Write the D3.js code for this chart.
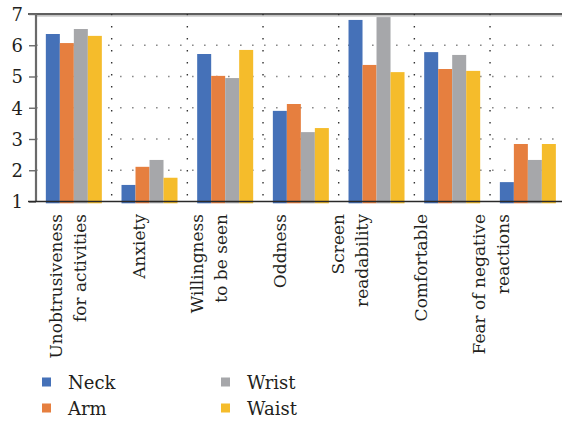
<!DOCTYPE html>
<html><head><meta charset="utf-8">
<script src="https://cdn.jsdelivr.net/npm/d3@7"></script>
<style>
html,body{margin:0;padding:0;background:#fff;}
svg{display:block;}
</style></head>
<body>
<svg id="chart" width="562" height="421"></svg>
<script>
const categories = [
  ["Unobtrusiveness","for activities"],
  ["Anxiety"],
  ["Willingness","to be seen"],
  ["Oddness"],
  ["Screen","readability"],
  ["Comfortable"],
  ["Fear of negative","reactions"]
];
const seriesNames = ["Neck","Arm","Wrist","Waist"];
const neck  = [6.36, 1.53, 5.72, 3.90, 6.81, 5.78, 1.62];
const arm   = [6.07, 2.11, 5.02, 4.12, 5.37, 5.24, 2.84];
const wrist = [6.52, 2.33, 4.95, 3.22, 6.90, 5.69, 2.33];
const waist = [6.30, 1.76, 5.85, 3.35, 5.14, 5.18, 2.84];
const yTicks = [1,2,3,4,5,6,7];
const colors = ["#4571b8","#e67f3f","#a6a7aa","#f5bc2b"];

const FONT = "DejaVu Serif";
const values = [neck, arm, wrist, waist];
const catKeys = categories.map(c => c.join(" "));
const svg = d3.select("#chart").attr("font-family", FONT);

const x = d3.scaleBand().domain(catKeys).range([36, 565.7]).padding(0);
const bw = x.bandwidth();
const x1 = d3.scaleBand().domain(seriesNames).range([(bw-56)/2, (bw+56)/2]).padding(0);
const xLab = d3.scaleBand().domain(catKeys).range([32.75, 526.25]).padding(0);
const y = d3.scaleLinear().domain([1,7]).range([201.5, 14]);

// horizontal dotted gridlines
svg.append("g").selectAll("line").data(yTicks.filter(t => t > 1 && t < 7)).join("line")
  .attr("x1", 36).attr("x2", 562)
  .attr("y1", d => y(d)).attr("y2", d => y(d))
  .attr("stroke", "#8a8a8a").attr("stroke-width", 1.6)
  .attr("stroke-dasharray", "1.6,10.4");

// vertical dotted gridlines at category boundaries
svg.append("g").selectAll("line").data(catKeys.slice(1)).join("line")
  .attr("x1", d => x(d)).attr("x2", d => x(d))
  .attr("y1", y(7)).attr("y2", y(1))
  .attr("stroke", "#333").attr("stroke-width", 1.4)
  .attr("stroke-dasharray", "1.4,10.6");

// top border
svg.append("line").attr("x1", 36).attr("x2", 562).attr("y1", y(7)+1.8).attr("y2", y(7)+1.8)
  .attr("stroke", "#b0b0b0").attr("stroke-width", 1.2);
svg.append("line").attr("x1", 28).attr("x2", 562).attr("y1", y(7)).attr("y2", y(7))
  .attr("stroke", "#2a2a2a").attr("stroke-width", 1.6);

// bars
const groups = svg.append("g").selectAll("g").data(catKeys).join("g")
  .attr("transform", d => `translate(${x(d)},0)`);
groups.selectAll("rect").data((d, i) => seriesNames.map((s, j) => ({s, v: values[j][i], j})))
  .join("rect")
  .attr("x", d => x1(d.s))
  .attr("width", x1.bandwidth())
  .attr("y", d => y(d.v))
  .attr("height", d => y(1) + 1.8 - y(d.v))
  .attr("fill", d => colors[d.j]);

// y axis
const yAxis = d3.axisLeft(y).tickValues(yTicks).tickSize(7).tickPadding(6).tickFormat(d3.format("d"));
const ya = svg.append("g").attr("transform", "translate(36,0)").call(yAxis);
ya.attr("font-family", FONT);
ya.select(".domain").remove();
ya.selectAll(".tick line").attr("stroke", "#6a6a6a").attr("stroke-width", 1.4);
ya.selectAll(".tick text").attr("font-size", 18).attr("font-family", FONT).attr("fill", "#231f20").attr("dy", "0.36em");
svg.append("line").attr("x1", 36).attr("x2", 36).attr("y1", y(7)).attr("y2", y(1))
  .attr("stroke", "#6a6a6a").attr("stroke-width", 2.2);

// bottom axis line
svg.append("line").attr("x1", 28).attr("x2", 562).attr("y1", y(1)).attr("y2", y(1))
  .attr("stroke", "#2a2a2a").attr("stroke-width", 1.6);

// category labels
const fs = 17, lh = 24;
const lab = svg.append("g").selectAll("text").data(categories).join("text")
  .attr("transform", (d, i) => `translate(${xLab(catKeys[i]) + xLab.bandwidth()/2},214) rotate(-90)`)
  .attr("text-anchor", "end")
  .attr("font-family", FONT)
  .attr("fill", "#231f20")
  .attr("font-size", fs);
lab.each(function(d) {
  const t = d3.select(this);
  const b0 = 0.36*fs - (d.length-1)*lh/2;
  d.forEach((line, k) => {
    t.append("tspan").attr("x", 0).attr("y", b0 + k*lh).text(line);
  });
});

// legend
const legendPos = [[42, 382],[42, 408],[221, 382],[221, 408]];
const lg = svg.append("g").selectAll("g").data(seriesNames).join("g")
  .attr("transform", (d, i) => `translate(${legendPos[i][0]},${legendPos[i][1]})`);
lg.append("rect").attr("x", 0).attr("y", -4.5).attr("width", 9).attr("height", 9)
  .attr("fill", (d, i) => colors[i]);
lg.append("text").attr("x", 26).attr("y", 6.5).attr("font-size", 18)
  .attr("font-family", FONT).attr("fill", "#231f20").text(d => d);
</script>
</body></html>
